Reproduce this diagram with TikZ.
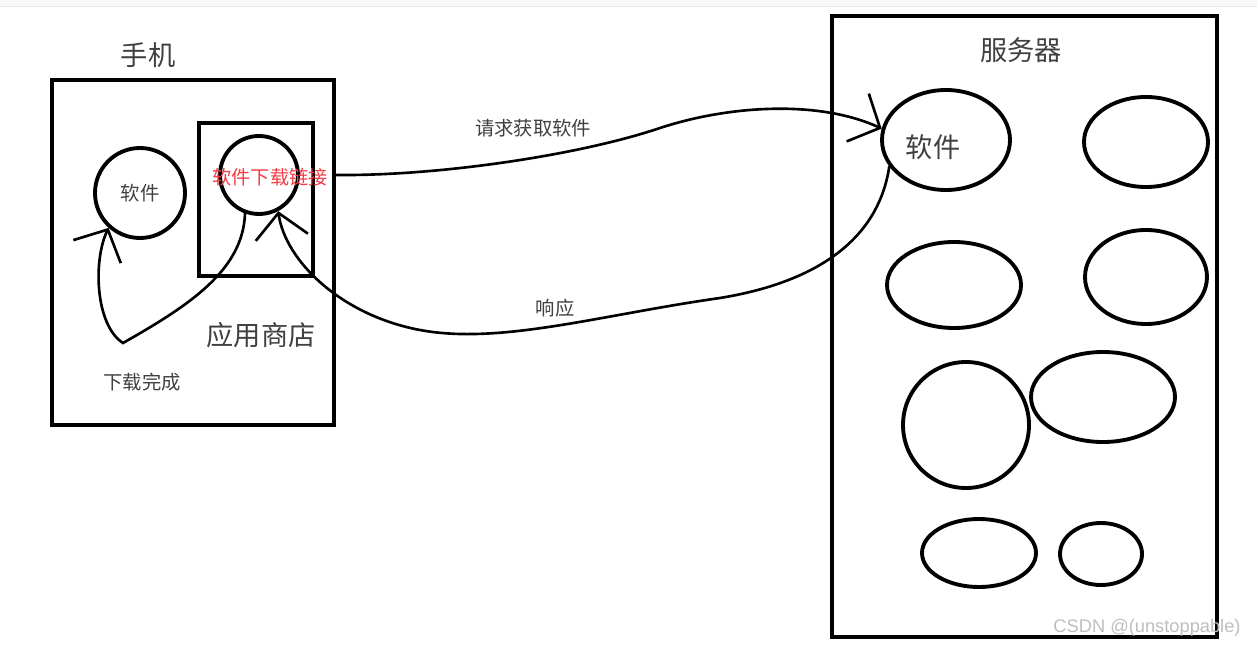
\documentclass[tikz,border=0pt]{standalone}
\usepackage{fontspec}
\setmainfont{Noto Sans CJK SC}
\newfontfamily\wmfont{Liberation Sans}
\usetikzlibrary{arrows.meta,shapes.geometric}
\newlength\pxu
\setlength\pxu{0.02cm}
\definecolor{inkgray}{RGB}{64,64,64}
\definecolor{linkred}{RGB}{245,60,70}
\definecolor{wmgray}{RGB}{190,190,190}

\begin{document}
\begin{tikzpicture}[x=0.02cm, y=-0.02cm,
        frame/.style={draw, rectangle, line width=2.5pt, inner sep=0pt},
        blob/.style={draw, line width=2.2pt, inner sep=0pt},
        wire/.style={line width=1.5pt, line cap=round,
            -{Straight Barb[length=14pt, width=30pt]}},
        big/.style={text=inkgray, font=\fontsize{15.5}{18}\selectfont},
        small/.style={text=inkgray, font=\fontsize{11}{13}\selectfont}]
        \fill[white] (0,0) rectangle (1257,648);
        \useasboundingbox (0,0) rectangle (1257,648);
        \fill[black!3] (0,0) rectangle (1257,6);
        \draw[black!9] (0,6.5) -- (1257,6.5);

        \node[frame, minimum width=282\pxu, minimum height=345\pxu] (phone) at (193,252.5) {};
        \node[frame, minimum width=114\pxu, minimum height=153\pxu] (store) at (256,199.5) {};
        \node[frame, minimum width=385\pxu, minimum height=621\pxu] (server) at (1024.5,326.5) {};

        \node[blob, circle, minimum size=90\pxu, small] (soft) at (140,193) {软件};
        \node[blob, circle, minimum size=78\pxu] (link) at (259,175) {};
        \node[text=linkred, font=\fontsize{10.9}{13}\selectfont] (link text) at (270,177) {软件下载链接};

        \node[blob, ellipse, minimum width=128\pxu, minimum height=100\pxu] (srv soft) at (946,140) {};
        \foreach \n/\x/\y/\w/\h in {a/1146/142/124/90, b/954/285/134/86, c/1146/277/122/94,
                d/966/425/126/126, e/1103/397/144/90, f/979/553/114/68, g/1101/554/82/62} {
            \node[blob, ellipse, minimum width=\w\pxu, minimum height=\h\pxu] (srv \n) at (\x,\y) {};
        }

        \node[big] (phone label) at (148,55) {手机};
        \node[big] (store label) at (261,335) {应用商店};
        \node[big] (server label) at (1021,50) {服务器};
        \node[big] (srv soft label) at (933,147) {软件};
        \node[small] (req label) at (533,128) {请求获取软件};
        \node[small] (resp label) at (555,308) {响应};
        \node[small] (done label) at (142,382) {下载完成};

        \coordinate (req) at (phone.east |- link.center);
        \draw[wire] (req) .. controls (440,176) and (580,155) .. (660,128)
            .. controls (730,105) and (820,100) .. (srv soft.170);
        \draw[wire] (srv soft.205) .. controls (880,230) and (830,280) .. (720,298)
            .. controls (600,315) and (500,345) .. (420,330)
            .. controls (340,315) and (285,260) .. (link.-62);
        \draw[wire] (link.-110) .. controls (243,270) and (190,305) .. (123,343)
            .. controls (95,325) and (93,260) .. (soft.-132);

        \node[text=wmgray, font=\wmfont\fontsize{10.4}{12}\selectfont] (mark) at (1147,628) {CSDN @(unstoppable)};
\end{tikzpicture}
\end{document}
